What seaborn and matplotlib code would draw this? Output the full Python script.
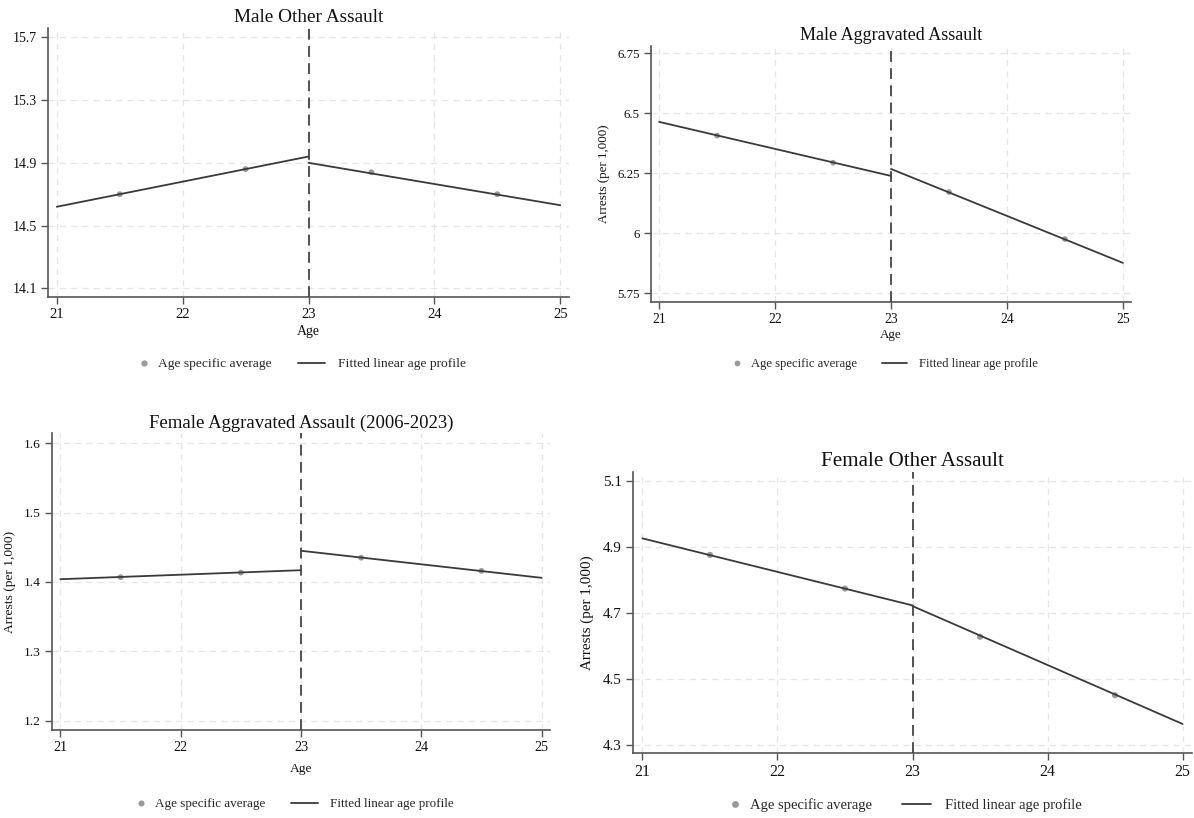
import matplotlib
matplotlib.use("Agg")
import pandas as pd
import matplotlib.pyplot as plt
from matplotlib.lines import Line2D
from matplotlib.legend_handler import HandlerLine2D
import seaborn as sns

# --- data ---
ages_avg = [21.5, 22.5, 23.5, 24.5]
ages_fit = [21, 23, 23, 25]
segment = ["left", "left", "right", "right"]
cutoff_age = 23
x_ticks = [21, 22, 23, 24, 25]

titles = [
    "Male Other Assault",
    "Male Aggravated Assault",
    "Female Aggravated Assault (2006-2023)",
    "Female Other Assault",
]

male_other_avg = [14.70, 14.86, 14.84, 14.70]
male_other_fit = [14.62, 14.94, 14.90, 14.63]

male_agg_avg = [6.407, 6.294, 6.172, 5.976]
male_agg_fit = [6.464, 6.239, 6.268, 5.877]

female_agg_avg = [1.407, 1.4135, 1.435, 1.416]
female_agg_fit = [1.404, 1.417, 1.445, 1.406]

female_other_avg = [4.875, 4.773, 4.627, 4.450]
female_other_fit = [4.925, 4.722, 4.720, 4.363]

male_other_yticks = [14.1, 14.5, 14.9, 15.3, 15.7]
male_agg_yticks = [5.75, 6, 6.25, 6.5, 6.75]
male_agg_ylabels = ["5.75", "6", "6.25", "6.5", "6.75"]
female_agg_yticks = [1.2, 1.3, 1.4, 1.5, 1.6]
female_other_yticks = [4.3, 4.5, 4.7, 4.9, 5.1]

# --- layout (pixels of the 1194x818 composite) ---
W, H = 1194, 818
# left, right, top, bottom of each plot region
boxes = [(48, 569, 28, 297), (651, 1131, 46, 302), (52, 550, 433, 730), (633, 1192, 472, 753)]
ylims = [(14.045, 15.759), (5.714, 6.78), (1.1866, 1.6148), (4.275, 5.126)]
# the four graphs were pasted at slightly different zoom levels
scales = [1.0, 0.935, 0.97, 1.09]
legend_offsets = [67, 62, 74, 52]
age_offsets = [35, 33, 39, None]
ylab_offsets = [None, 47, 42, 46]


class DotAtEnd(HandlerLine2D):
    # Stata-style key: the marker sits right next to its label
    def create_artists(self, legend, orig_handle, xdescent, ydescent,
                       width, height, fontsize, trans):
        artists = super().create_artists(legend, orig_handle, xdescent, ydescent,
                                         width, height, fontsize, trans)
        for a in artists:
            a.set_xdata([width - xdescent - 1])
        return artists


sns.set_theme(style="ticks")
plt.rcParams["font.family"] = ["Liberation Serif", "DejaVu Serif"]

fig = plt.figure(figsize=(W / 100, H / 100), dpi=100)

panels = [
    (male_other_avg, male_other_fit, male_other_yticks, None),
    (male_agg_avg, male_agg_fit, male_agg_yticks, male_agg_ylabels),
    (female_agg_avg, female_agg_fit, female_agg_yticks, None),
    (female_other_avg, female_other_fit, female_other_yticks, None),
]

line_col = "#3a3a3a"
dot_col = "#9a9a9a"
txt_col = "#111111"

for i, (avg, fit, yticks, ylabels) in enumerate(panels):
    l, r, t, b = boxes[i]
    s = scales[i]
    w_px, h_px = r - l, b - t
    ax = fig.add_axes([l / W, 1 - b / H, w_px / W, h_px / H])
    ax.set_facecolor("white")

    pts = pd.DataFrame({"age": ages_avg, "rate": avg})
    fitted = pd.DataFrame({"age": ages_fit, "rate": fit, "seg": segment})

    sns.scatterplot(data=pts, x="age", y="rate", ax=ax, color=dot_col,
                    s=18 * s, edgecolor="none", zorder=3)
    sns.lineplot(data=fitted, x="age", y="rate", units="seg", estimator=None,
                 ax=ax, color=line_col, lw=1.3, zorder=4)
    ax.axvline(cutoff_age, color="#444444", lw=1.3, ls=(0, (6, 3.5)), zorder=5)

    ax.set_xlim(20.93, 25.07)
    ax.set_ylim(*ylims[i])
    ax.set_xticks(x_ticks)
    ax.set_yticks(yticks)
    if ylabels is not None:
        ax.set_yticklabels(ylabels)
    else:
        ax.set_yticklabels([f"{v:g}" for v in yticks])

    ax.grid(True, color="#e6e6e6", lw=0.9, ls=(0, (5, 4)))
    ax.set_axisbelow(True)
    for side in ["top", "right"]:
        ax.spines[side].set_visible(False)
    for side in ["left", "bottom"]:
        ax.spines[side].set_color("#555555")
        ax.spines[side].set_linewidth(1.2)
    ax.tick_params(axis="both", direction="out", length=5, width=1.0,
                   color="#555555", labelcolor=txt_col, pad=3)
    ax.tick_params(axis="x", labelsize=10.5 * s)
    ax.tick_params(axis="y", labelsize=10.0 * s)

    ax.set_title(titles[i], fontsize=13.9 * s, color=txt_col, pad=4)

    if age_offsets[i] is not None:
        ax.set_xlabel("Age", fontsize=10 * s, color=txt_col, va="center")
        ax.xaxis.set_label_coords(0.5, -age_offsets[i] / h_px)
    else:
        ax.set_xlabel("")
    if ylab_offsets[i] is not None:
        ax.set_ylabel("Arrests (per 1,000)", fontsize=10 * s, color=txt_col, va="center")
        ax.yaxis.set_label_coords(-ylab_offsets[i] / w_px, 0.5)
    else:
        ax.set_ylabel("")

    dot = Line2D([], [], marker="o", ls="none", color=dot_col, markersize=4.5 * s,
                 markeredgewidth=0)
    fit_line = Line2D([], [], color=line_col, lw=1.3)
    anchor_x = 0.5 - 16.5 * s / w_px
    ax.legend([dot, fit_line], ["Age specific average", "Fitted linear age profile"],
              handler_map={dot: DotAtEnd()},
              loc="center", bbox_to_anchor=(anchor_x, -legend_offsets[i] / h_px),
              ncol=2, frameon=False, fontsize=9.7 * s, handlelength=2.0,
              handletextpad=0.95, columnspacing=2.0)

fig.savefig("out.png", dpi=100, facecolor="white")
